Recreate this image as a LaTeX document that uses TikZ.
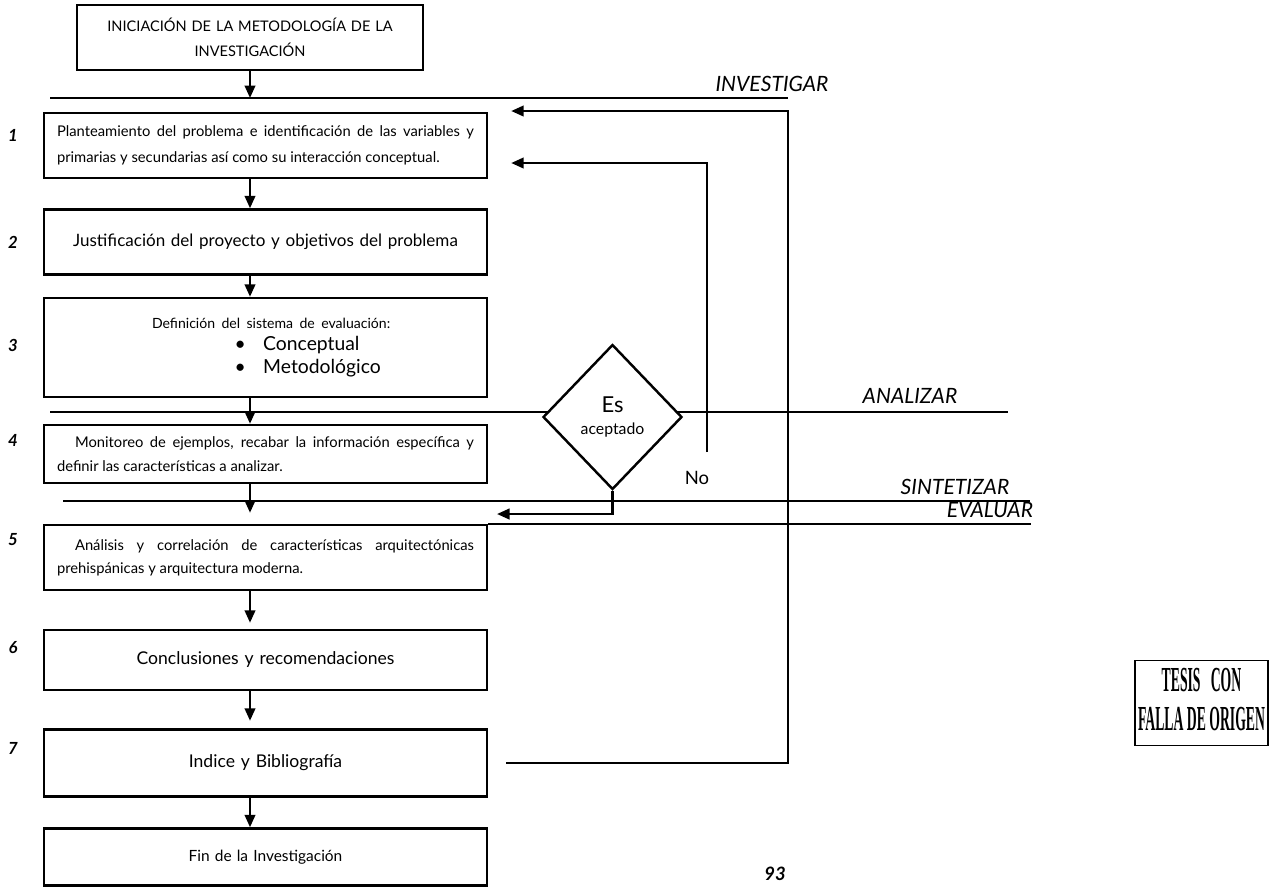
\documentclass[tikz,border=0pt]{standalone}
\usepackage{fontspec}
\setmainfont{Lato}
\newfontfamily\stampfont{Liberation Serif}
\usetikzlibrary{positioning,arrows.meta,shapes.geometric}

\begin{document}
\begin{tikzpicture}[x=0.02cm, y=-0.02cm,
        stepbox/.style={draw, line width=1.4pt, minimum width=8.86cm,
                    text width=8.34cm, inner xsep=0.26cm, inner ysep=0pt,
                    align=center, font=\fontsize{9.7}{12}\selectfont},
        flow/.style={-{Triangle[length=2.5mm, width=2.1mm]}, line width=1.4pt},
        phaseline/.style={line width=1.4pt},
        phaselabel/.style={font=\fontsize{12}{14}\selectfont\itshape},
        stepnum/.style={font=\fontsize{9.5}{11}\selectfont\bfseries\itshape}
    ]
    \useasboundingbox (0,0) rectangle (1270,894);

    % Start box
    \node[stepbox, minimum width=6.88cm, text width=6.4cm, minimum height=1.3cm,
          font=\fontsize{8.3}{14}\selectfont] (start) at (250,37.5)
          {INICIACIÓN DE LA METODOLOGÍA DE LA\\INVESTIGACIÓN};

    % Steps of the method
    \node[stepbox, minimum height=1.3cm, align=justify, font=\fontsize{8.4}{15}\selectfont] (b1) at (265.5,145.5)
          {\noindent Planteamiento del problema e identificación de las variables y\linebreak
           primarias y secundarias así como su interacción conceptual.};
    \node[stepbox, minimum height=1.3cm] (b2) at (265.5,242)
          {Justificación del proyecto y objetivos del problema};
    \node[stepbox, minimum height=1.98cm, align=left, font=\fontsize{11}{13}\selectfont] (b3) at (265.5,347.5)
          {\hspace*{1.9cm}{\fontsize{8}{13}\selectfont Definición del sistema de evaluación:}\\
           \hspace*{3.55cm}\textbullet\hspace{0.35cm}Conceptual\\
           \hspace*{3.55cm}\textbullet\hspace{0.35cm}Metodológico};
    \node[stepbox, minimum height=1.16cm, align=justify, font=\fontsize{8.4}{14}\selectfont] (b4) at (265.5,454)
          {\noindent\hspace*{0.36cm}Monitoreo de ejemplos, recabar la información específica y\linebreak
           definir las características a analizar.};
    \node[stepbox, minimum height=1.3cm, align=justify, font=\fontsize{8.4}{13}\selectfont] (b5) at (265.5,557.5)
          {\noindent\hspace*{0.36cm}Análisis y correlación de características arquitectónicas\linebreak
           prehispánicas y arquitectura moderna.};
    \node[stepbox, minimum height=1.2cm, font=\fontsize{10}{12}\selectfont] (b6) at (265.5,660)
          {Conclusiones y recomendaciones};
    \node[stepbox, minimum height=1.34cm, font=\fontsize{10}{12}\selectfont] (b7) at (265.5,763)
          {Indice y Bibliografía};
    \node[stepbox, minimum height=1.14cm, font=\fontsize{8.8}{11}\selectfont] (b8) at (265.5,857)
          {Fin de la Investigación};

    % Step numbers
    \node[stepnum] (n1) at (13,135) {1};
    \node[stepnum] (n2) at (13,242) {2};
    \node[stepnum] (n3) at (13,345) {3};
    \node[stepnum] (n4) at (13,440) {4};
    \node[stepnum] (n5) at (13,540) {5};
    \node[stepnum] (n6) at (13,648) {6};
    \node[stepnum] (n7) at (13,748) {7};

    % Phase lines
    \draw[phaseline] (50,98) -- (788,98);
    \node[phaselabel] (investigar) at (772,84) {INVESTIGAR};
    \draw[phaseline] (50,412) -- (1008,412);
    \node[phaselabel] (analizar) at (910,396) {ANALIZAR};
    \draw[phaseline] (63,501) -- (1030,501);
    \node[phaselabel] (sintetizar) at (955,487) {SINTETIZAR};
    \draw[phaseline] (b5.north east) -- ++(543,0);
    \node[phaselabel] (evaluar) at (990,510) {EVALUAR};

    % Main flow
    \coordinate (investHit) at (250,98);
    \draw[flow] (start.south) -- (investHit);
    \draw[flow] (b1.south -| start.south) -- (b2.north -| start.south);
    \draw[flow] (b2.south -| start.south) -- (b3.north -| start.south);
    \draw[flow] (b3.south -| start.south) -- (b4.north -| start.south);
    \draw[flow, shorten >=0.22cm] (b4.south -| start.south) -- (b5.north -| start.south);
    \draw[flow, shorten >=0.12cm] (b5.south -| start.south) -- (b6.north -| start.south);
    \draw[flow, shorten >=0.15cm] (b6.south -| start.south) -- (b7.north -| start.south);
    \draw[flow] (b7.south -| start.south) -- (b8.north -| start.south);

    % Decision
    \node[diamond, draw, fill=white, line width=1.4pt, minimum width=2.78cm,
          minimum height=2.9cm, inner sep=0pt, align=center] (decision) at (612.5,417)
          {{\fontsize{12.5}{14}\selectfont Es}\\[1pt]{\fontsize{9}{10}\selectfont aceptado}};
    \coordinate (backTip) at (497,514);
    \draw[flow] (decision.south) |- (backTip);
    \node[font=\fontsize{10.5}{12}\selectfont] (no) at (697,478) {No};

    % Feedback loops
    \coordinate (noTop) at (707,452);
    \coordinate (innerTurn) at (707,163);
    \draw[flow, shorten >=0.46cm] (noTop) -- (innerTurn) -- (innerTurn -| b1.east);
    \coordinate (outerFoot) at (788,763);
    \coordinate (outerTurn) at (788,111);
    \draw[flow, shorten >=0.46cm] ([xshift=0.36cm]b7.east) -- (outerFoot) -- (outerTurn) -- (outerTurn -| b1.east);

    % Page number and stamp
    \node[font=\fontsize{10.5}{12}\selectfont\bfseries\itshape] (page) at (775,874) {93};
    \node[draw, line width=1pt, minimum width=2.66cm, minimum height=1.7cm, inner sep=1pt,
          font=\stampfont\bfseries\fontsize{20}{22}\selectfont] (stamp) at (1201.5,703)
          {\scalebox{0.39}[1]{\begin{tabular}{@{}c@{}}TESIS\hspace{0.5em} CON\\FALLA DE ORIGEN\end{tabular}}};
\end{tikzpicture}
\end{document}
